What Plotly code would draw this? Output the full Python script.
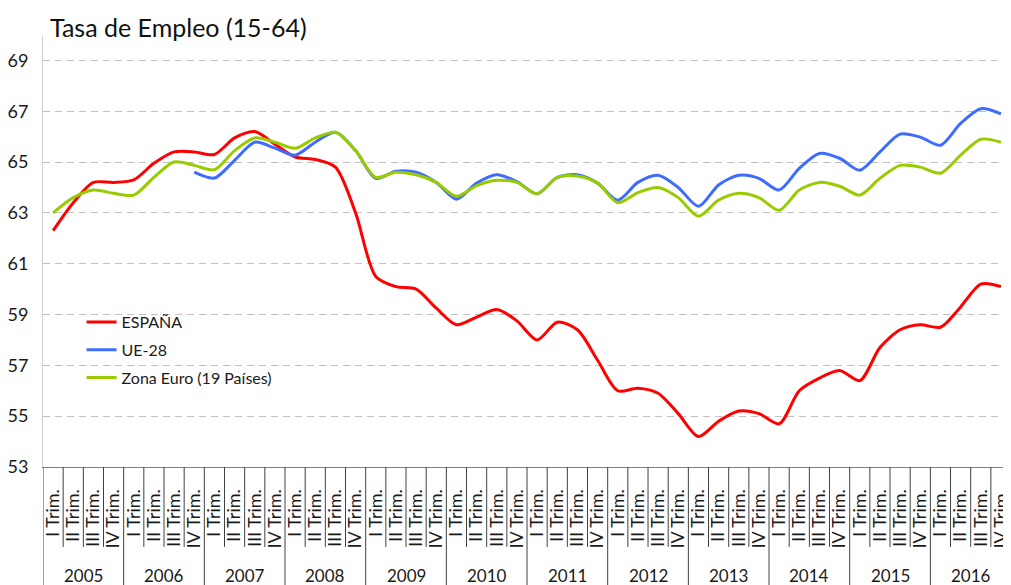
import plotly.graph_objects as go

YEARS = [str(y) for y in range(2005, 2017)]
QUARTERS = ["I Trim.", "II Trim.", "III Trim.", "IV Trim."]

ESPANA = [62.3, 63.4, 64.2, 64.2,
          64.3, 64.95, 65.4, 65.4,
          65.3, 65.95, 66.2, 65.7,
          65.2, 65.1, 64.8, 63.0,
          60.5, 60.1, 60.0, 59.25,
          58.6, 58.9, 59.2, 58.75,
          58.0, 58.7, 58.4, 57.2,
          56.0, 56.1, 55.9, 55.1,
          54.2, 54.8, 55.2, 55.1,
          54.7, 56.0, 56.5, 56.8,
          56.4, 57.7, 58.4, 58.6,
          58.5, 59.3, 60.2, 60.1]

UE28 = [None, None, None, None,
        None, None, None, 64.6,
        64.37, 65.07, 65.78, 65.55,
        65.27, 65.78, 66.17, 65.45,
        64.36, 64.64, 64.6, 64.2,
        63.54, 64.17, 64.5, 64.23,
        63.75, 64.4, 64.5, 64.17,
        63.5, 64.2, 64.48, 64.0,
        63.26, 64.1, 64.48, 64.36,
        63.9, 64.75, 65.34, 65.15,
        64.68, 65.4, 66.1, 65.98,
        65.66, 66.52, 67.1, 66.9]

ZONA_EURO = [63.0, 63.6, 63.9, 63.77,
             63.7, 64.4, 65.0, 64.87,
             64.7, 65.45, 65.95, 65.78,
             65.54, 65.95, 66.17, 65.45,
             64.4, 64.6, 64.5, 64.2,
             63.65, 64.07, 64.28, 64.2,
             63.75, 64.4, 64.45, 64.17,
             63.4, 63.8, 64.0, 63.6,
             62.87, 63.5, 63.77, 63.6,
             63.1, 63.9, 64.2, 64.05,
             63.7, 64.36, 64.87, 64.8,
             64.56, 65.27, 65.9, 65.78]

Y_TICKS = [53, 55, 57, 59, 61, 63, 65, 67, 69]

FONT = "Lato, 'Noto Sans', sans-serif"
COLORS = {"espana": "#ff0000", "ue28": "#3d6cff", "euro": "#99cc00"}

# the page body adds an 8px margin, so the figure is 8px smaller each way
W, H = 1003, 577

n = len(ESPANA)
x = list(range(n))
tick_text = [q for _ in YEARS for q in QUARTERS]

fig = go.Figure()
for name, vals, key in [("ESPAÑA", ESPANA, "espana"),
                        ("UE-28", UE28, "ue28"),
                        ("Zona Euro (19 Países)", ZONA_EURO, "euro")]:
    fig.add_trace(go.Scatter(
        x=x, y=vals, name=name, legendgroup=key, mode="lines",
        line=dict(color=COLORS[key], width=3, shape="spline", smoothing=0.8),
        connectgaps=False,
    ))

# quarter separators below the axis, year separators run to the bottom
shapes = []
for i in range(n + 1):
    bottom = -0.3 if i % 4 == 0 else -0.185
    shapes.append(dict(type="line", xref="x", yref="paper",
                       x0=i - 0.5, x1=i - 0.5, y0=0, y1=bottom,
                       line=dict(color="#404040", width=1)))

annotations = []
for k, yr in enumerate(YEARS):
    annotations.append(dict(x=4 * k + 1.5, y=-0.25, xref="x", yref="paper",
                            text=yr, showarrow=False,
                            font=dict(size=17, color="#1a1a1a", family=FONT),
                            xanchor="center", yanchor="middle"))

fig.update_layout(
    width=W, height=H,
    paper_bgcolor="white", plot_bgcolor="white",
    margin=dict(l=35, r=0, t=27, b=118),
    title=dict(text="Tasa de Empleo (15-64)", x=42 / W, xanchor="left",
               xref="container", y=1 - 20 / H, yref="container", yanchor="middle",
               font=dict(size=25, color="#111", family=FONT)),
    font=dict(family=FONT, color="#1a1a1a"),
    xaxis=dict(
        range=[-0.5, 47.3], tickmode="array", tickvals=x, ticktext=tick_text,
        tickangle=-90, tickfont=dict(size=18, family=FONT, color="#1a1a1a"),
        showgrid=False, zeroline=False, showline=True, linecolor="#808080",
        linewidth=1, ticks="", ticklabelstandoff=14, ticklabeloverflow="allow",
    ),
    yaxis=dict(
        range=[53, 70], tickmode="array", tickvals=Y_TICKS,
        tickfont=dict(size=18, family=FONT, color="#1a1a1a"),
        showgrid=True, gridcolor="#c0c0c0", griddash="7px,5px", gridwidth=1,
        zeroline=False, showline=True, linecolor="#d0d0d0", linewidth=1,
        ticks="", ticklabelstandoff=10,
    ),
    legend=dict(x=0.04, y=0.375, xanchor="left", yanchor="top",
                bgcolor="rgba(0,0,0,0)", tracegroupgap=4,
                font=dict(size=16, family=FONT, color="#1a1a1a"),
                itemwidth=30),
    shapes=shapes,
    annotations=annotations,
)

fig.write_html("out.html")
